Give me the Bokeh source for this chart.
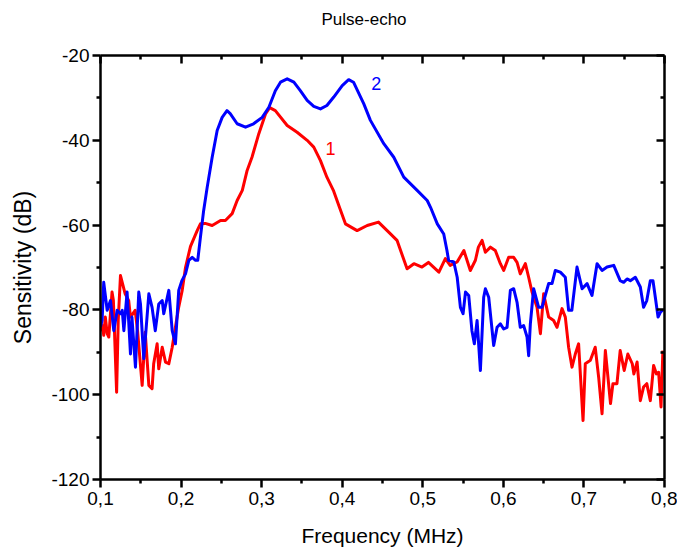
from bokeh.plotting import figure
from bokeh.models import Range1d, LinearAxis, FixedTicker, CustomJSTickFormatter, Label
from bokeh.embed import file_html
from bokeh.resources import INLINE

# Curve 1 (red)
freq_1 = [0.100, 0.1025, 0.1040, 0.106, 0.1083, 0.1103, 0.1143, 0.116, 0.120, 0.122,
          0.1248, 0.1306, 0.135, 0.1372, 0.143, 0.146, 0.1517, 0.1555, 0.160, 0.164,
          0.166, 0.1703, 0.1723, 0.1766, 0.1807, 0.1848, 0.189, 0.193, 0.197, 0.2014,
          0.2055, 0.2117, 0.220, 0.224, 0.230, 0.2386, 0.249, 0.255, 0.2634, 0.2696,
          0.276, 0.282, 0.288, 0.2964, 0.305, 0.310, 0.317, 0.3317, 0.344, 0.3565,
          0.3647, 0.373, 0.381, 0.389, 0.396, 0.404, 0.4185, 0.431, 0.445, 0.458,
          0.468, 0.4805, 0.489, 0.499, 0.507, 0.520, 0.528, 0.534, 0.5426, 0.551,
          0.559, 0.5653, 0.569, 0.5736, 0.5777, 0.584, 0.590, 0.5963, 0.6004, 0.6066,
          0.6128, 0.617, 0.621, 0.6273, 0.6314, 0.6356, 0.6418, 0.646, 0.650, 0.6562,
          0.6624, 0.6666, 0.6728, 0.6769, 0.681, 0.6852, 0.6893, 0.6934, 0.6989, 0.7017,
          0.708, 0.714, 0.7183, 0.7225, 0.7266, 0.733, 0.736, 0.741, 0.745, 0.750,
          0.7545, 0.760, 0.762, 0.766, 0.770, 0.774, 0.778, 0.7824, 0.7865, 0.790,
          0.7927, 0.7957, 0.798]
sens_1 = [-85.0, -83.7, -86.0, -81.7, -85.6, -86.4, -75.8, -77.8, -99.4, -82.5,
          -71.9, -76.2, -77.8, -81.7, -80.1, -84.9, -97.8, -85.3, -97.8, -98.6,
          -92.7, -88.0, -93.9, -88.8, -92.3, -92.7, -88.8, -84.1, -79.4, -75.4,
          -70.0, -65.0, -61.3, -59.7, -59.6, -60.1, -58.9, -58.9, -57.3, -54.2,
          -51.8, -47.1, -44.0, -38.5, -33.7, -32.3, -33.0, -36.5, -38.1, -40.0,
          -41.6, -44.8, -48.7, -51.8, -55.5, -59.7, -61.3, -60.1, -59.3, -61.7,
          -63.6, -70.3, -69.1, -69.9, -68.8, -71.1, -67.9, -69.5, -68.7, -66.0,
          -70.7, -68.3, -65.2, -63.6, -66.4, -65.2, -66.0, -69.1, -70.7, -67.6,
          -67.6, -68.8, -71.5, -69.1, -72.3, -75.8, -79.4, -85.6, -76.2, -81.7,
          -82.5, -84.1, -79.7, -81.7, -88.8, -93.5, -90.4, -88.0, -106.1, -92.7,
          -91.9, -88.8, -95.9, -104.5, -89.6, -102.1, -97.4, -97.4, -89.6, -94.3,
          -90.4, -92.7, -95.1, -92.3, -101.4, -98.2, -97.4, -101.4, -93.1, -95.1,
          -94.7, -102.9, -89.6]

# Curve 2 (blue)
freq_2 = [0.100, 0.102, 0.104, 0.1083, 0.1124, 0.1165, 0.1207, 0.1248, 0.127, 0.129,
          0.133, 0.1372, 0.139, 0.1434, 0.1475, 0.1496, 0.1537, 0.160, 0.164, 0.168,
          0.1723, 0.1766, 0.1785, 0.1848, 0.189, 0.193, 0.1971, 0.201, 0.2055, 0.2096,
          0.2138, 0.218, 0.2207, 0.224, 0.228, 0.2324, 0.2386, 0.2448, 0.251, 0.257,
          0.261, 0.2696, 0.280, 0.290, 0.3007, 0.309, 0.317, 0.3234, 0.3317, 0.340,
          0.348, 0.3565, 0.3647, 0.373, 0.381, 0.3895, 0.400, 0.408, 0.414, 0.4268,
          0.435, 0.4516, 0.464, 0.4764, 0.493, 0.5055, 0.5096, 0.518, 0.526, 0.530,
          0.532, 0.5385, 0.5427, 0.5467, 0.550, 0.553, 0.557, 0.561, 0.564, 0.5674,
          0.5715, 0.5756, 0.5777, 0.5818, 0.588, 0.5922, 0.5963, 0.6004, 0.6046, 0.6087,
          0.6128, 0.617, 0.621, 0.6252, 0.6294, 0.6314, 0.6335, 0.6376, 0.6438, 0.648,
          0.652, 0.6562, 0.6604, 0.6645, 0.6707, 0.6769, 0.681, 0.685, 0.6914, 0.6977,
          0.7039, 0.710, 0.7163, 0.7225, 0.7287, 0.737, 0.745, 0.7493, 0.7535, 0.7576,
          0.7638, 0.770, 0.774, 0.778, 0.7824, 0.7857, 0.7886, 0.792, 0.795, 0.798]
sens_2 = [-84.0, -82.5, -73.5, -80.1, -77.8, -84.9, -80.1, -80.9, -80.1, -84.9,
          -75.8, -90.4, -81.7, -93.5, -75.8, -78.6, -91.5, -76.2, -79.4, -84.9,
          -78.6, -77.8, -80.9, -75.4, -84.9, -88.0, -75.4, -73.1, -71.5, -68.3,
          -67.6, -68.3, -68.3, -62.9, -56.6, -51.1, -44.0, -37.7, -34.6, -33.0,
          -33.7, -36.1, -36.9, -36.1, -34.6, -32.2, -28.3, -26.3, -25.5, -26.3,
          -28.3, -30.6, -32.0, -32.6, -31.8, -29.8, -27.1, -25.7, -26.3, -31.4,
          -35.3, -40.8, -44.0, -48.7, -51.8, -54.2, -55.8, -59.7, -62.1, -66.0,
          -68.3, -68.7, -72.3, -79.4, -80.9, -75.8, -76.6, -84.9, -88.0, -82.5,
          -94.3, -77.0, -75.0, -77.0, -88.4, -84.1, -83.3, -84.5, -84.1, -75.4,
          -75.0, -78.2, -84.1, -83.7, -86.4, -90.8, -83.3, -75.0, -79.4, -79.4,
          -76.6, -73.8, -73.8, -70.7, -71.1, -72.3, -80.1, -80.1, -69.9, -75.0,
          -73.8, -76.6, -69.1, -70.7, -69.9, -69.5, -73.1, -73.5, -72.7, -73.1,
          -72.3, -74.6, -79.4, -77.8, -73.1, -73.1, -77.0, -81.7, -80.5, -80.0]

x_ticks = [0.1, 0.2, 0.3, 0.4, 0.5, 0.6, 0.7, 0.8]
x_minor = [0.15, 0.25, 0.35, 0.45, 0.55, 0.65, 0.75]
y_ticks = [-120, -100, -80, -60, -40, -20]
y_minor = [-110, -90, -70, -50, -30]

curve_names = ["1", "2"]
name_x = [0.3854, 0.4424]
name_y = [-41.9, -26.6]

title_text = "Pulse-echo"
x_label = "Frequency (MHz)"
y_label = "Sensitivity (dB)"

FONT = "Liberation Sans"

p = figure(width=677, height=549, output_backend="svg", toolbar_location=None,
           x_range=Range1d(0.1, 0.8), y_range=Range1d(-120, -20),
           min_border_left=100, min_border_top=55, min_border_right=13, min_border_bottom=70,
           background_fill_color="white", border_fill_color="white")
p.outline_line_color = None
p.grid.visible = False

p.title.text = title_text
p.title.align = "left"
p.title.offset = 221
p.title.vertical_align = "middle"
p.title.standoff = 10
p.title.text_font = FONT
p.title.text_font_size = "17px"
p.title.text_font_style = "normal"
p.title.text_color = "black"

def style_axis(ax, ticker, tin, tout):
    ax.ticker = ticker
    ax.axis_line_width = 2.5
    ax.axis_line_color = "black"
    ax.major_tick_line_width = 2.5
    ax.minor_tick_line_width = 2.5
    ax.major_tick_line_color = "black"
    ax.minor_tick_line_color = "black"
    ax.major_tick_in = tin
    ax.major_tick_out = tout
    ax.minor_tick_in = int(tin * 0.6)
    ax.minor_tick_out = int(tout * 0.6)
    ax.major_label_text_font = FONT
    ax.major_label_text_color = "black"
    ax.axis_label_text_font = FONT
    ax.axis_label_text_font_style = "normal"
    ax.axis_label_text_color = "black"

xt = FixedTicker(ticks=x_ticks, minor_ticks=x_minor)
yt = FixedTicker(ticks=y_ticks, minor_ticks=y_minor)

xa = p.xaxis[0]
style_axis(xa, xt, 0, 8)
xa.formatter = CustomJSTickFormatter(code="return tick.toFixed(1).replace('.', ',');")
xa.major_label_text_font_size = "19px"
xa.major_label_standoff = 4
xa.axis_label = x_label
xa.axis_label_text_font_size = "21px"
xa.axis_label_standoff = 16

ya = p.yaxis[0]
style_axis(ya, yt, 0, 8)
ya.formatter = CustomJSTickFormatter(code="return tick.toFixed(0);")
ya.major_label_text_font_size = "19px"
ya.major_label_standoff = 3
ya.axis_label = y_label
ya.axis_label_text_font_size = "23px"
ya.axis_label_standoff = 12

top = LinearAxis()
style_axis(top, FixedTicker(ticks=x_ticks, minor_ticks=x_minor), 8, 0)
top.formatter = CustomJSTickFormatter(code="return '';")
top.major_label_standoff = 0
top.major_label_text_font_size = "1px"
top.axis_label = " "
top.axis_label_text_font_size = "1px"
top.axis_label_standoff = 17
p.add_layout(top, "above")

right = LinearAxis()
style_axis(right, FixedTicker(ticks=y_ticks, minor_ticks=y_minor), 8, 0)
right.formatter = CustomJSTickFormatter(code="return '';")
right.major_label_standoff = 0
right.major_label_text_font_size = "1px"
p.add_layout(right, "right")

p.line(freq_1, sens_1, line_color="#FF0000", line_width=3, line_join="round")
p.line(freq_2, sens_2, line_color="#0000FF", line_width=3, line_join="round")

colors = ["#FF0000", "#0000FF"]
for t, x, y, c in zip(curve_names, name_x, name_y, colors):
    p.add_layout(Label(x=x, y=y, text=t, text_color=c, text_align="center",
                       text_baseline="middle", text_font=FONT, text_font_size="18px"))

open("out.html", "w").write(file_html(p, INLINE))
